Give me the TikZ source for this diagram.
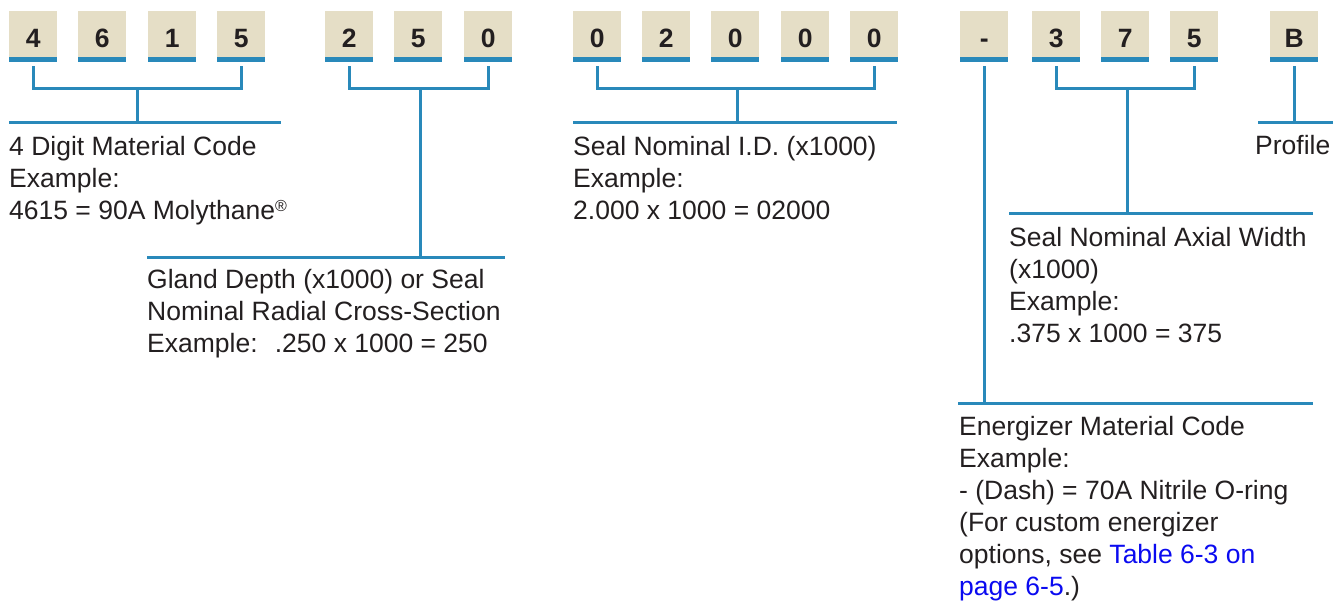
\documentclass[tikz,border=0pt]{standalone}
\usepackage{fontspec}
\setmainfont{Liberation Sans}
\usetikzlibrary{calc}
\definecolor{beige}{RGB}{229,222,198}
\definecolor{lineblue}{RGB}{41,137,186}
\definecolor{txt}{RGB}{35,31,32}
\definecolor{linkblue}{RGB}{10,10,240}
\begin{document}
\begin{tikzpicture}[x=1pt,y=-1pt,
  digit/.style={fill=beige, minimum width=48pt, minimum height=46pt, inner sep=0pt,
    anchor=north west, text height=26pt, text depth=0pt,
    font=\fontsize{26.5}{26.5}\selectfont\bfseries, text=txt},
  bar/.style={fill=lineblue},
  conn/.style={draw=lineblue, line width=3pt},
  desc/.style={anchor=north west, inner sep=0pt, align=left,
    font=\fontsize{26.5}{32}\selectfont, text=txt}]
\useasboundingbox (0,0) rectangle (1333,600);
\clip (0,0) rectangle (1333,600);

% digit boxes
\foreach \n/\x/\t in {b1/9/4, b2/78/6, b3/148/1, b4/217/5,
                      b5/325/2, b6/394/5, b7/464/0,
                      b8/573/0, b9/642/2, b10/711/0, b11/781/0, b12/850/0,
                      b13/960/-, b14/1032/3, b15/1101/7, b16/1170/5,
                      b17/1270/B}{
  \node[digit] (\n) at (\x,11) {\t};
  \fill[bar] (\n.south west) rectangle ++(48,5);
}

% helper coordinates
\coordinate (m) at (0,88);
\coordinate (u1) at (0,122);
\coordinate (u2) at (0,257);
\coordinate (u3) at (0,213);
\coordinate (u4) at (0,403);

% group 1
\draw[conn] ($(b1.south)+(0,9)$) -- (b1.south |- m) -- (b4.south |- m) -- ($(b4.south)+(0,9)$);
\coordinate (g1) at ($(b1.south |- m)!0.5!(b4.south |- m)$);
\coordinate (l1a) at (9,122);
\coordinate (l1b) at (281,122);
\draw[conn] (g1) -- (g1 |- u1);
\draw[conn] (l1a) -- (l1b);

% group 2
\draw[conn] ($(b5.south)+(0,9)$) -- (b5.south |- m) -- (b7.south |- m) -- ($(b7.south)+(0,9)$);
\coordinate (g2) at ($(b5.south |- m)!0.5!(b7.south |- m)+(2,0)$);
\coordinate (l2a) at (147,257);
\coordinate (l2b) at (505,257);
\draw[conn] (g2) -- (g2 |- u2);
\draw[conn] (l2a) -- (l2b);

% group 3
\draw[conn] ($(b8.south)+(0,9)$) -- (b8.south |- m) -- (b12.south |- m) -- ($(b12.south)+(0,9)$);
\coordinate (g3) at ($(b8.south |- m)!0.5!(b12.south |- m)+(2,0)$);
\coordinate (l3a) at (573,122);
\coordinate (l3b) at (897,122);
\draw[conn] (g3) -- (g3 |- u1);
\draw[conn] (l3a) -- (l3b);

% dash
\coordinate (l4a) at (958,403);
\coordinate (l4b) at (1313,403);
\draw[conn] ($(b13.south)+(0,9)$) -- (b13.south |- u4);
\draw[conn] (l4a) -- (l4b);

% 375
\draw[conn] ($(b14.south)+(0,9)$) -- (b14.south |- m) -- (b16.south |- m) -- ($(b16.south)+(0,9)$);
\coordinate (g5) at ($(b14.south |- m)!0.5!(b16.south |- m)+(2,0)$);
\coordinate (l5a) at (1009,213);
\coordinate (l5b) at (1313,213);
\draw[conn] (g5) -- (g5 |- u3);
\draw[conn] (l5a) -- (l5b);

% B
\coordinate (l6a) at (1258,122);
\coordinate (l6b) at (1340,122);
\draw[conn] ($(b17.south)+(0,9)$) -- (b17.south |- u1);
\draw[conn] (l6a) -- (l6b);

% descriptions
\node[desc] (t1) at (9,132.6) {\strut 4 Digit Material Code\\Example:\\4615 = 90A Molythane\raisebox{8pt}{\fontsize{16}{16}\selectfont ®}};
\node[desc] (t2) at (147,265.6) {\strut Gland Depth (x1000) or Seal\\Nominal Radial Cross-Section\\Example:~ .250 x 1000 = 250};
\node[desc] (t3) at (573,132.6) {\strut Seal Nominal I.D. (x1000)\\Example:\\2.000 x 1000 = 02000};
\node[desc] (t4) at (1255,131.6) {\strut Profile};
\node[desc] (t5) at (1009,223.6) {\strut Seal Nominal Axial Width\\(x1000)\\Example:\\.375 x 1000 = 375};
\node[desc] (t6) at (959,412.6) {\strut Energizer Material Code\\Example:\\- (Dash) = 70A Nitrile O-ring\\(For custom energizer\\options, see \textcolor{linkblue}{Table 6-3 on}\\\textcolor{linkblue}{page 6-5}.)};
\end{tikzpicture}
\end{document}
